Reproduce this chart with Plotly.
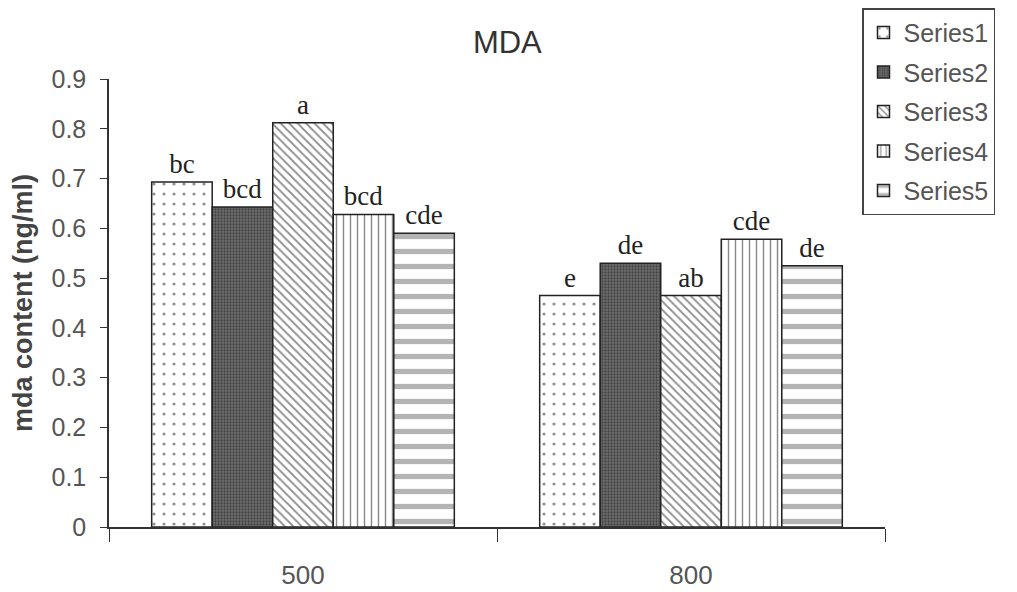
import plotly.graph_objects as go

categories = ["500", "800"]
series_names = ["Series1", "Series2", "Series3", "Series4", "Series5"]
values = {
    "Series1": [0.693, 0.465],
    "Series2": [0.643, 0.530],
    "Series3": [0.812, 0.465],
    "Series4": [0.628, 0.578],
    "Series5": [0.590, 0.525],
}
letters = {
    "Series1": ["bc", "e"],
    "Series2": ["bcd", "de"],
    "Series3": ["a", "ab"],
    "Series4": ["bcd", "cde"],
    "Series5": ["cde", "de"],
}

styles = {
    "Series1": dict(shape=".", bgcolor="white", fgcolor="#222", size=10, solidity=0.08),
    "Series2": dict(shape=".", bgcolor="#6e6e6e", fgcolor="#1a1a1a", size=3, solidity=0.45),
    "Series3": dict(shape="\\", bgcolor="white", fgcolor="#111", size=6, solidity=0.3),
    "Series4": dict(shape="|", bgcolor="white", fgcolor="#111", size=7, solidity=0.2),
    "Series5": dict(shape="-", bgcolor="white", fgcolor="#6a6a6a", size=15, solidity=0.35),
}

SANS = "Liberation Sans, Arial, sans-serif"

fig = go.Figure()
for name in series_names:
    fig.add_trace(go.Bar(
        name=name,
        legendgroup=name,
        x=categories,
        y=values[name],
        text=letters[name],
        textposition="outside",
        textfont=dict(family="Liberation Serif, Times New Roman, serif", size=27, color="#222"),
        cliponaxis=False,
        marker=dict(color="white", line=dict(color="#222", width=1.5),
                    pattern=styles[name]),
    ))

fig.update_layout(
    width=1017, height=592,
    paper_bgcolor="white", plot_bgcolor="white",
    barmode="group", bargap=0.22, bargroupgap=0,
    margin=dict(l=101, r=140, t=71, b=73, autoexpand=False),
    title=dict(text="MDA", x=0.491, xanchor="center", xref="container",
               y=0.942, yanchor="middle", yref="container",
               font=dict(family=SANS, size=31, color="#333")),
    font=dict(family=SANS, color="#444"),
    showlegend=True,
    legend=dict(x=(854 - 101) / 776, xref="paper", xanchor="left", y=1.158, yanchor="top",
                bordercolor="#444", borderwidth=1.5, bgcolor="white",
                font=dict(family=SANS, size=25, color="#555"),
                tracegroupgap=4, itemwidth=30),
    xaxis=dict(showline=True, linecolor="#333", linewidth=1.5, ticks="outside",
               tickson="boundaries", ticklen=13, tickcolor="#333", automargin=False,
               ticklabelstandoff=24,
               tickfont=dict(family=SANS, size=26, color="#555"), showgrid=False),
    yaxis=dict(range=[0, 0.9], dtick=0.1, showline=True, linecolor="#333", linewidth=1.5,
               ticks="outside", ticklen=7, tickcolor="#333", showgrid=False, automargin=False,
               ticklabelstandoff=9,
               tickfont=dict(family=SANS, size=25, color="#555"), zeroline=False,
               title=dict(text="<b>mda content (ng/ml)</b>",
                          font=dict(family=SANS, size=27, color="#444"),
                          standoff=12)),
)
fig.write_html("out.html")
